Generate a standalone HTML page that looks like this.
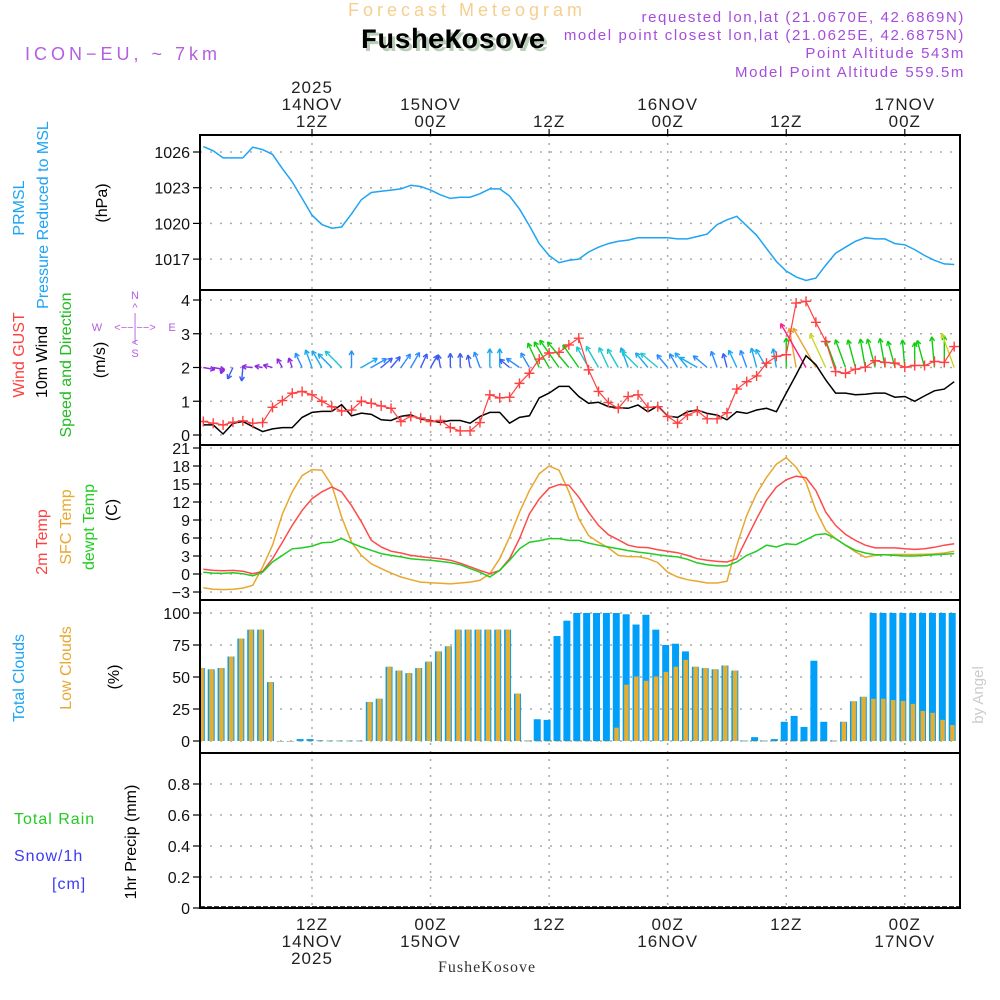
<!DOCTYPE html>
<html><head><meta charset="utf-8">
<style>
html,body{margin:0;padding:0;background:#fff;}
svg{display:block;font-family:"Liberation Sans",sans-serif;}
</style></head>
<body>
<svg id="chart" width="1000" height="1000" viewBox="0 0 1000 1000" xmlns="http://www.w3.org/2000/svg">
<rect x="0" y="0" width="1000" height="1000" fill="#fff"/>
<!-- header -->
<text x="467" y="16" text-anchor="middle" font-size="18" fill="#f5cf8e" letter-spacing="4">Forecast Meteogram</text>
<text x="965" y="40" text-anchor="end" font-size="15" fill="#a64ddb" letter-spacing="1.6">model point closest lon,lat (21.0625E, 42.6875N)</text>
<text x="456" y="51" text-anchor="middle" font-size="28" font-weight="bold" font-family="Liberation Mono, monospace" fill="#b8ccb8">FusheKosove</text>
<text x="453" y="48" text-anchor="middle" font-size="28" font-weight="bold" font-family="Liberation Mono, monospace" fill="#000">FusheKosove</text>
<text x="965" y="22" text-anchor="end" font-size="15" fill="#a64ddb" letter-spacing="1.6">requested lon,lat (21.0670E, 42.6869N)</text>
<text x="965" y="58" text-anchor="end" font-size="15" fill="#a64ddb" letter-spacing="1.6">Point Altitude 543m</text>
<text x="965" y="77" text-anchor="end" font-size="15" fill="#a64ddb" letter-spacing="1.6">Model Point Altitude 559.5m</text>
<text x="25" y="60" font-size="18" fill="#b45ee0" letter-spacing="4">ICON−EU, ~ 7km</text>
<g id="main"></g>
</svg>
<script>
// ---- data (hourly, t = hours since 14NOV 00Z) ----
const hours = [];
for (let h = 1; h <= 77; h++) hours.push(h);
const pressure = [1026.45,1026.1,1025.5,1025.5,1025.5,1026.4,1026.2,1025.8,1024.6,1023.5,1022.1,1020.7,1019.9,1019.6,1019.7,1020.8,1022.0,1022.6,1022.7,1022.8,1022.9,1023.2,1023.1,1022.8,1022.4,1022.1,1022.2,1022.2,1022.5,1022.9,1022.9,1022.3,1021.2,1019.8,1018.3,1017.3,1016.7,1016.9,1017.0,1017.6,1018.0,1018.3,1018.5,1018.6,1018.8,1018.8,1018.8,1018.8,1018.7,1018.7,1018.9,1019.1,1019.9,1020.3,1020.6,1019.8,1019.0,1017.9,1016.8,1016.0,1015.5,1015.2,1015.4,1016.5,1017.5,1018.0,1018.5,1018.8,1018.7,1018.7,1018.3,1018.2,1017.8,1017.3,1016.9,1016.6,1016.55];
const wind10m = [0.3,0.3,0.03,0.35,0.4,0.25,0.1,0.18,0.22,0.22,0.52,0.67,0.7,0.7,0.9,0.57,0.65,0.61,0.45,0.43,0.55,0.6,0.47,0.43,0.37,0.43,0.43,0.35,0.55,0.67,0.67,0.35,0.52,0.57,1.1,1.24,1.44,1.44,1.14,0.94,0.97,0.84,0.81,0.79,0.89,0.69,0.86,0.56,0.52,0.69,0.74,0.64,0.59,0.45,0.69,0.64,0.74,0.79,0.69,1.24,1.78,2.35,2.08,1.63,1.24,1.24,1.19,1.21,1.24,1.24,1.12,1.14,1.0,1.16,1.31,1.36,1.58];
const windGust = [0.4,0.35,0.3,0.38,0.42,0.35,0.37,0.82,1.02,1.24,1.29,1.19,1.0,0.84,0.71,0.74,1.0,0.94,0.86,0.79,0.4,0.55,0.5,0.4,0.43,0.22,0.12,0.12,0.37,1.19,1.1,1.12,1.53,1.83,2.25,2.43,2.45,2.67,2.87,1.93,1.29,0.96,0.79,1.14,1.19,0.82,0.84,0.55,0.35,0.59,0.71,0.48,0.48,0.66,1.36,1.58,1.75,2.13,2.33,2.38,3.91,3.96,3.34,2.77,1.88,1.83,1.95,2.01,2.2,2.15,2.13,2.01,2.06,2.06,2.18,2.15,2.62];
const windDir = [100,100,200,205,185,275,280,285,330,340,335,340,330,315,315,0,60,60,50,40,35,30,25,30,350,0,0,350,340,0,0,310,305,330,335,330,325,320,325,330,330,335,330,340,315,320,310,320,330,320,300,310,340,345,335,340,345,330,350,0,350,330,330,335,340,340,345,350,345,350,345,355,0,345,355,0,340];
const temp2m = [0.78,0.6,0.55,0.6,0.45,0.05,0.45,2.55,5.3,8.1,10.6,12.55,13.7,14.5,13.7,11.4,8.7,5.6,4.5,3.8,3.5,3.1,2.9,2.7,2.55,2.3,1.8,1.2,0.6,0.05,0.6,2.55,5.9,10.0,12.5,14.3,14.9,14.8,12.8,10.3,8.1,6.55,5.7,4.8,4.45,4.4,4.05,3.8,3.55,3.1,2.55,2.3,2.1,2.0,2.55,5.9,9.2,12.3,14.5,15.7,16.3,16.05,13.9,10.3,8.1,6.6,5.6,4.8,4.35,4.35,4.35,4.2,4.1,4.2,4.45,4.8,5.05];
const tempSfc = [-2.3,-2.55,-2.6,-2.55,-2.35,-1.9,1.15,4.8,10.0,13.7,16.4,17.4,17.3,14.8,9.5,5.3,3.1,1.7,0.9,0.15,-0.5,-0.95,-1.35,-1.45,-1.55,-1.65,-1.5,-1.35,-1.05,0.05,2.55,6.15,10.3,13.9,16.7,18.0,17.3,13.7,9.2,6.4,5.3,4.35,3.1,2.9,2.9,2.55,1.9,0.3,-0.5,-0.95,-1.2,-1.5,-1.5,-1.2,4.8,9.75,13.4,16.1,18.3,19.4,17.8,15.3,10.6,7.3,5.9,4.8,3.7,2.8,3.1,3.2,3.25,3.25,3.25,3.3,3.35,3.5,3.8];
const dewpt = [0.3,0.15,0.1,0.2,0.05,-0.3,0.3,2.0,3.1,4.2,4.35,4.65,5.2,5.3,5.9,5.15,4.5,3.95,3.4,3.1,2.85,2.55,2.4,2.3,2.1,1.9,1.55,0.9,0.3,-0.5,0.6,2.3,4.2,5.3,5.55,5.9,5.9,5.6,5.6,5.15,4.8,4.5,4.2,3.9,3.65,3.45,3.2,3.0,2.85,2.45,1.85,1.55,1.35,1.35,2.0,3.1,3.8,4.8,4.5,5.05,4.9,5.7,6.55,6.7,5.9,4.8,3.95,3.5,3.2,3.2,3.1,3.0,3.0,3.1,3.2,3.3,3.4];
const totalClouds = [57,56,57,66,80,87,87,46,0,0,1.5,1.5,0.5,0.3,0.3,0.3,0.3,30.5,33,58,55,53,57,62,70,74,87,87,87,87,87,87,37,0.3,17,16.5,82,94,100,100,100,100,100,99,91,98.6,87,75,76,70,58,57,56,59,55,0.3,3,0.3,1.5,15,19.6,11,62.7,15,0.3,15,31,34.5,100,100,100,100,100,100,100,100,100];
const lowClouds = [57,56,57,66,80,87,87,46,0,0,0,0,0,0,0,0,0,30.5,33,58,55,53,57,62,70,74,87,87,87,87,87,87,37,0,0,0,0,0,0,0,0,0,10.4,44,50.4,47,50.4,54,58,63.4,58,57,56,59,55,0,0,0,0,0,0,0,0,0,0,15,31,34.5,33,33,32,31.3,29,23.5,22,16.5,12.5];
const precip = [];
const pressureTicks = [1017,1020,1023,1026];
const windTicks = [0,1,2,3,4];
const tempTicks = [-3,0,3,6,9,12,15,18,21];
const cloudTicks = [0,25,50,75,100];
const precipTicks = [0,0.2,0.4,0.6,0.8];
const gridHours = [12,24,36,48,60,72];
const topLabels = [["2025","14NOV","12Z"],["","15NOV","00Z"],["","","12Z"],["","16NOV","00Z"],["","","12Z"],["","17NOV","00Z"]];
const bottomLabels = [["12Z","14NOV","2025"],["00Z","15NOV",""],["12Z","",""],["00Z","16NOV",""],["12Z","",""],["00Z","17NOV",""]];

// ---- scales ----
const X0 = 200, X1 = 960;
const xT = t => 312 + (t - 12) * 9.88;
const yP = v => 152 + (1026 - v) * 35.7 / 3;
const yW = v => 435 - v * 33.75;
const yT = v => 574 - 6 * v;
const yC = v => 741 - v * 1.28;
const yR = v => 908 - v * 155;

const NS = "http://www.w3.org/2000/svg";
const main = document.getElementById("main");
function mk(tag, attrs, parent) {
  const e = document.createElementNS(NS, tag);
  for (const k in attrs) e.setAttribute(k, attrs[k]);
  (parent || main).appendChild(e);
  return e;
}
function txt(s, attrs, parent) { const e = mk("text", attrs, parent); e.textContent = s; return e; }

const defs = mk("defs", {});
const panels = [[135,290],[290,445],[445,600],[600,753],[753,908]];
panels.forEach((p, i) => {
  const cp = mk("clipPath", {id: "cp" + i}, defs);
  mk("rect", {x: X0, y: p[0], width: X1 - X0, height: p[1] - p[0]}, cp);
});

function hgrid(ticks, yf, fmt, name) {
  const g = mk("g", {});
  
  
  ticks.forEach(v => {
    const y = yf(v);
    const l = mk("line", {x1: X0, x2: X1, y1: y, y2: y, stroke: "#aaa", "stroke-width": 1.5, "stroke-dasharray": "2,8"}, g);
    
    
    mk("line", {x1: X0 - 7, x2: X0, y1: y, y2: y, stroke: "#000", "stroke-width": 1.2}, g);
    const t = txt(fmt(v), {x: X0 - 10, y: y + 6, "text-anchor": "end", "font-size": 16, fill: "#111"}, g);
    
    
  });
}
hgrid(pressureTicks, yP, v => String(v), "pressure");
hgrid(windTicks, yW, v => String(v), "wind");
hgrid(tempTicks, yT, v => (v < 0 ? "−" + (-v) : String(v)), "temp");
hgrid(cloudTicks, yC, v => String(v), "cloud");
hgrid(precipTicks, yR, v => (v === 0 ? "0" : v.toFixed(1)), "precip");

gridHours.forEach((h, i) => {
  const x = xT(h);
  const l = mk("line", {x1: x, x2: x, y1: 135, y2: 908, stroke: "#aaa", "stroke-width": 1.5, "stroke-dasharray": "2,6"});
  
  
  mk("line", {x1: x, x2: x, y1: 129, y2: 135, stroke: "#000", "stroke-width": 1.2});
  topLabels[i].forEach((s, j) => {
    if (!s) return;
    const t = txt(s, {x: x, y: 93 + j * 17, "text-anchor": "middle", "font-size": 17, fill: "#222", "letter-spacing": 1});
    
    
  });
  bottomLabels[i].forEach((s, j) => {
    if (!s) return;
    const t = txt(s, {x: x, y: 930 + j * 17, "text-anchor": "middle", "font-size": 17, fill: "#222", "letter-spacing": 1});
    
    
  });
});

function polyline(vals, yf, color, clip, name, w) {
  const pts = vals.map((v, i) => xT(hours[i]).toFixed(1) + "," + yf(v).toFixed(1)).join(" ");
  const p = mk("polyline", {points: pts, fill: "none", stroke: color, "stroke-width": w || 1.5, "clip-path": "url(#cp" + clip + ")"});
  
  
  return p;
}
polyline(pressure, yP, "#1ea4f5", 0, "pressure-line");

function arrowColor(s) {
  if (s < 0.35) return "#8a2be2";
  if (s < 0.5) return "#3a5cf5";
  if (s < 0.65) return "#2a8cff";
  if (s < 0.8) return "#1aa8f0";
  if (s < 1.0) return "#1cc8d0";
  if (s < 1.5) return "#10cc10";
  if (s < 1.7) return "#c8d820";
  if (s < 2.2) return "#e8a030";
  return "#ff1a8c";
}
const ga = mk("g", {"clip-path": "url(#cp1)"});


hours.forEach((h, i) => {
  const s = wind10m[i];
  const a = windDir[i] * Math.PI / 180;
  const L = 6 + 19 * s;
  const x0 = xT(h), y0 = yW(2);
  const x1 = x0 + L * Math.sin(a), y1 = y0 - L * Math.cos(a);
  const c = arrowColor(s);
  const g = mk("g", {stroke: c, "stroke-width": 1.4, fill: "none"}, ga);
  
  
  mk("line", {x1: x0, y1: y0, x2: x1, y2: y1}, g);
  const hl = 5;
  [0.5, -0.5].forEach(d => {
    const b = a + Math.PI + d;
    mk("line", {x1: x1, y1: y1, x2: x1 + hl * Math.sin(b), y2: y1 - hl * Math.cos(b)}, g);
  });
});
polyline(wind10m, yW, "#000", 1, "wind-10m-line");
polyline(windGust, yW, "#ff4040", 1, "wind-gust-line", 1.2);
const gm = mk("g", {stroke: "#ff4040", "stroke-width": 1.4, "clip-path": "url(#cp1)"});


windGust.forEach((v, i) => {
  const x = xT(hours[i]), y = yW(v);
  const m = mk("path", {d: `M${x - 5},${y}H${x + 5}M${x},${y - 5}V${y + 5}`}, gm);
  
  
});

polyline(tempSfc, yT, "#e8a830", 2, "sfc-temp-line");
polyline(temp2m, yT, "#ff4a4a", 2, "temp-2m-line");
polyline(dewpt, yT, "#22cc22", 2, "dewpt-line");

const gc = mk("g", {"clip-path": "url(#cp3)"});


hours.forEach((h, i) => {
  const xc = xT(h) - 2;
  const tv = totalClouds[i], lv = lowClouds[i];
  const b = mk("rect", {x: xc - 3.5, y: yC(tv), width: 7, height: Math.max(0.6, yC(0) - yC(tv)), fill: "#00a0fa"}, gc);
  
  
  const o = mk("rect", {x: xc - 2, y: yC(lv), width: 4.5, height: Math.max(0.6, yC(0) - yC(lv)), fill: "#e6ad2e"}, gc);
  
  
});

const pb = mk("line", {x1: X0, x2: X1, y1: yR(0) - 1, y2: yR(0) - 1, stroke: "#000", "stroke-width": 1.5, "stroke-dasharray": "5,2"});



panels.forEach((p, i) => {
  const r = mk("rect", {x: X0, y: p[0], width: X1 - X0, height: p[1] - p[0], fill: "none", stroke: "#000", "stroke-width": 2});
  
  
});

function vlabel(s, x, y, color, name, size) {
  const t = txt(s, {x: 0, y: 0, transform: `translate(${x},${y}) rotate(-90)`, "text-anchor": "middle", "font-size": size || 16, fill: color});
  
  
}
vlabel("PRMSL", 24, 208, "#1ea4f5", "prmsl-label");
vlabel("Pressure Reduced to MSL", 48, 215, "#1ea4f5", "pressure-title");
vlabel("(hPa)", 107, 203, "#000", "pressure-unit");
vlabel("Wind GUST", 24, 355, "#ff4040", "wind-gust-label");
vlabel("10m Wind", 47, 362, "#000", "wind-10m-label");
vlabel("Speed and Direction", 71, 365, "#22bb22", "wind-speed-dir-label");
vlabel("(m/s)", 105, 360, "#000", "wind-unit");
vlabel("2m Temp", 47, 542, "#ff4040", "temp-2m-label");
vlabel("SFC Temp", 71, 527, "#e8a830", "sfc-temp-label");
vlabel("dewpt Temp", 94, 527, "#22cc22", "dewpt-label");
vlabel("(C)", 117, 510, "#000", "temp-unit");
vlabel("Total Clouds", 24, 678, "#1ea4f5", "total-clouds-label");
vlabel("Low Clouds", 71, 668, "#e8a830", "low-clouds-label");
vlabel("(%)", 119, 677, "#000", "cloud-unit");
vlabel("1hr Precip (mm)", 136, 842, "#000", "precip-title");
vlabel("by Angel", 983, 695, "#ccc", "watermark", 15);

const lt = [["Total  Rain", 14, 824, "#22cc22", "total-rain-label"], ["Snow/1h", 14, 861, "#3a3af5", "snow-label"], ["[cm]", 52, 889, "#3a3af5", "snow-unit-label"]];
lt.forEach(a => {
  const t = txt(a[0], {x: a[1], y: a[2], "font-size": 16, fill: a[3], "letter-spacing": 1, "xml:space": "preserve"});
  
  
});

const cg = mk("g", {fill: "#b45ee0", "font-size": 11, "text-anchor": "middle"});


[["N",135,299],["^",135,311],["|",135,321],["W",97,331],["<−−|−−>",135,331],["E",172,331],["|",135,341],["<",135,346],["S",135,357]].forEach(a => {
  txt(a[0], {x: a[1], y: a[2]}, cg);
});

const bn = txt("FusheKosove", {x: 487, y: 972, "text-anchor": "middle", "font-size": 16, "font-family": "Liberation Serif, serif", fill: "#333", "letter-spacing": 1});


</script>
</body></html>
